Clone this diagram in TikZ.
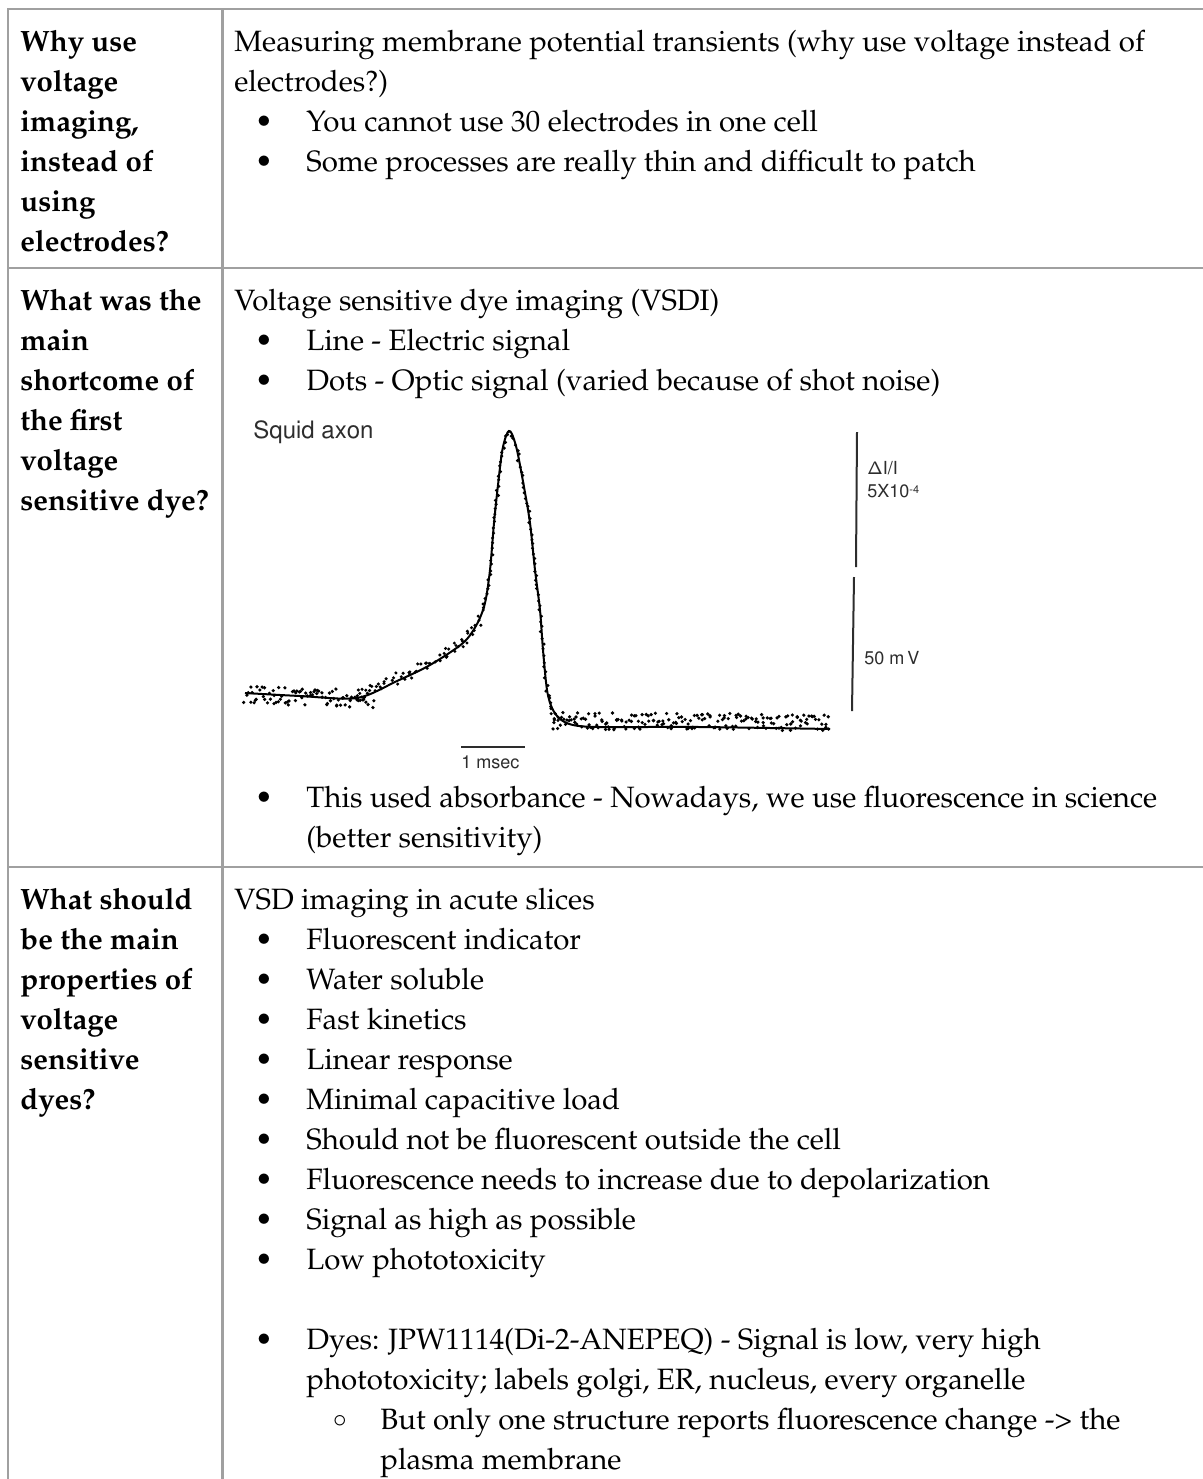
\documentclass[tikz,border=0pt]{standalone}
\usepackage[T1]{fontenc}
\usepackage{mathpazo}
\definecolor{bordc}{RGB}{160,160,160}
\definecolor{figc}{RGB}{45,45,45}
\begin{document}
\begin{tikzpicture}[x=0.5pt,y=-0.5pt,
  txt/.style={anchor=base west, inner sep=0pt, font=\fontsize{14.7}{20}\selectfont},
  hdr/.style={anchor=base west, inner sep=0pt, font=\fontsize{14.7}{20}\selectfont\bfseries},
  bul/.style={anchor=base, inner sep=0pt, font=\fontsize{15}{20}\selectfont},
  fig/.style={anchor=base west, inner sep=0pt, text=figc, font=\fontfamily{phv}\selectfont\fontsize{9}{10}\selectfont},
  rule/.style={draw=bordc, line width=1.3pt},
  trace/.style={draw=black, line width=1pt},
  dotm/.style={fill=black}]
\useasboundingbox (0,0) rectangle (1203,1479);
\clip (0,0) rectangle (1203,1479);
% ---------- table rules ----------
\draw[rule] (1215,9) -- (8,9) -- (8,1495);
\draw[rule] (222.7,9) -- (222.7,1495);
\draw[rule] (8,268) -- (1215,268);
\draw[rule] (8,867) -- (1215,867);
% ---------- row 1 ----------
\foreach \t [count=\i] in {Why use, voltage, {imaging,}, instead of, using, electrodes?}
  \node[hdr] (ha\i) at (20,{51+40*(\i-1)}) {\t};
\node[txt] (ca1) at (234,51) {Measuring membrane potential transients (why use voltage instead of};
\node[txt] (ca2) at (234,91) {electrodes?)};
\node[bul] (ba1) at (264,131) {\textbullet};
\node[txt] (ca3) at (306,131) {You cannot use 30 electrodes in one cell};
\node[bul] (ba2) at (264,171) {\textbullet};
\node[txt] (ca4) at (306,171) {Some processes are really thin and difficult to patch};
% ---------- row 2 ----------
\foreach \t [count=\i] in {What was the, main, shortcome of, the first, voltage, sensitive dye?}
  \node[hdr] (hb\i) at (20,{310+40*(\i-1)}) {\t};
\node[txt] (cb1) at (234,310) {Voltage sensitive dye imaging (VSDI)};
\node[bul] (bb1) at (264,350) {\textbullet};
\node[txt] (cb2) at (306,350) {Line - Electric signal};
\node[bul] (bb2) at (264,390) {\textbullet};
\node[txt] (cb3) at (306,390) {Dots - Optic signal (varied because of shot noise)};
% graph
\node[fig, font=\fontfamily{phv}\selectfont\fontsize{12}{14}\selectfont] (squid) at (253,438) {Squid axon};
\pgfmathsetseed{4711}
\draw[trace] plot[smooth, tension=0.5] coordinates {
  (245,693) (300,696) (357,698) (397,681) (430,665) (463,643) (477,624) (485,603)
  (490,570) (494,523) (498,485) (502,452) (506,436) (509,431) (512,434) (517,450)
  (524,487) (530,523) (535,570) (540,610) (543,650) (547,690) (552,708) (560,719)
  (573,725) (600,727) (700,727) (830,729)};
% dots: left baseline
\foreach \x in {245,246.5,...,375} {
  \pgfmathsetmacro\yy{695+0.03*(\x-245)+9*rand}
  \pgfmathsetmacro\xx{\x+1.5*rand}
  \fill[dotm] (\xx,\yy) circle (0.9pt);
}
% dots: rise and spike (piecewise, with noise)
\foreach \xa/\ya/\xb/\yb/\n/\s/\o in {
   357/698/397/681/20/5/-2, 397/681/430/665/16/5/-3, 430/665/463/643/16/5/-3, 463/643/477/624/8/4/-2,
   477/624/485/603/5/2/0, 485/603/490/570/7/1.5/0, 490/570/494/523/9/1.5/0, 494/523/498/485/8/1.5/0,
   498/485/502/452/7/1.5/0, 502/452/506/436/3/1.5/0, 506/436/509/431/2/1/1, 509/431/512/434/1/1/2,
   512/434/517/450/3/1.5/0, 517/450/524/487/7/1.5/0, 524/487/530/523/7/1.5/0, 530/523/535/570/9/1.5/0,
   535/570/540/610/8/1.5/0, 540/610/543/650/7/1.5/0, 543/650/547/690/7/1.5/0, 547/690/552/708/5/2/2,
   552/708/560/719/4/3/3} {
  \foreach \k in {1,...,\n} {
    \pgfmathsetmacro\xx{\xa+(\xb-\xa)*\k/\n+\s*rand}
    \pgfmathsetmacro\yy{\ya+(\yb-\ya)*\k/\n+\s*rand+\o}
    \fill[dotm] (\xx,\yy) circle (0.85pt);
  }
}
% dots: right baseline
\foreach \x in {552,553.5,...,830} {
  \pgfmathsetmacro\yy{721+0.005*(\x-552)+8.5*rand}
  \pgfmathsetmacro\xx{\x+1.5*rand}
  \fill[dotm] (\xx,\yy) circle (0.9pt);
}
% scale bars
\coordinate (sbA1) at (857,432);
\coordinate (sbA2) at (856,567);
\coordinate (sbB1) at (854,577);
\coordinate (sbB2) at (852,711);
\draw[line width=1pt, draw=figc] (sbA1) -- (sbA2);
\draw[line width=1pt, draw=figc] (sbB1) -- (sbB2);
\node[fig] (dii) at (867,474) {$\mathsf{\Delta}$I/I};
\node[fig] (fiv) at (867,497) {5X10\raisebox{0.35ex}{\fontsize{5.5}{6}\selectfont -4}};
\node[fig] (mv) at (864,664) {50 m\,V};
\coordinate (tb1) at (461,747);
\coordinate (tb2) at (525,747);
\draw[line width=1pt, draw=figc] (tb1) -- (tb2);
\node[fig] (ms) at (461,768) {1 msec};
% after graph
\node[bul] (bb3) at (264,807) {\textbullet};
\node[txt] (cb4) at (306,807) {This used absorbance - Nowadays, we use fluorescence in science};
\node[txt] (cb5) at (306,847) {(better sensitivity)};
% ---------- row 3 ----------
\foreach \t [count=\i] in {What should, be the main, properties of, voltage, sensitive, dyes?}
  \node[hdr] (hc\i) at (20,{909+40*(\i-1)}) {\t};
\node[txt] (cc0) at (234,909) {VSD imaging in acute slices};
\foreach \t [count=\i] in {Fluorescent indicator, Water soluble, Fast kinetics, Linear response,
   Minimal capacitive load, Should not be fluorescent outside the cell,
   Fluorescence needs to increase due to depolarization, Signal as high as possible, Low phototoxicity} {
  \node[bul] (bc\i) at (264,{949+40*(\i-1)}) {\textbullet};
  \node[txt] (cc\i) at (306,{949+40*(\i-1)}) {\t};
}
\node[bul] (bd1) at (264,1349) {\textbullet};
\node[txt] (cd1) at (306,1349) {Dyes: JPW1114(Di-2-ANEPEQ) - Signal is low, very high};
\node[txt] (cd2) at (306,1389) {phototoxicity; labels golgi, ER, nucleus, every organelle};
\node[bul, font=\fontsize{13}{15}\selectfont] (bd2) at (340,1427) {$\circ$};
\node[txt] (cd3) at (380,1429) {But only one structure reports fluorescence change -> the};
\node[txt] (cd4) at (380,1469) {plasma membrane};
\end{tikzpicture}
\end{document}
